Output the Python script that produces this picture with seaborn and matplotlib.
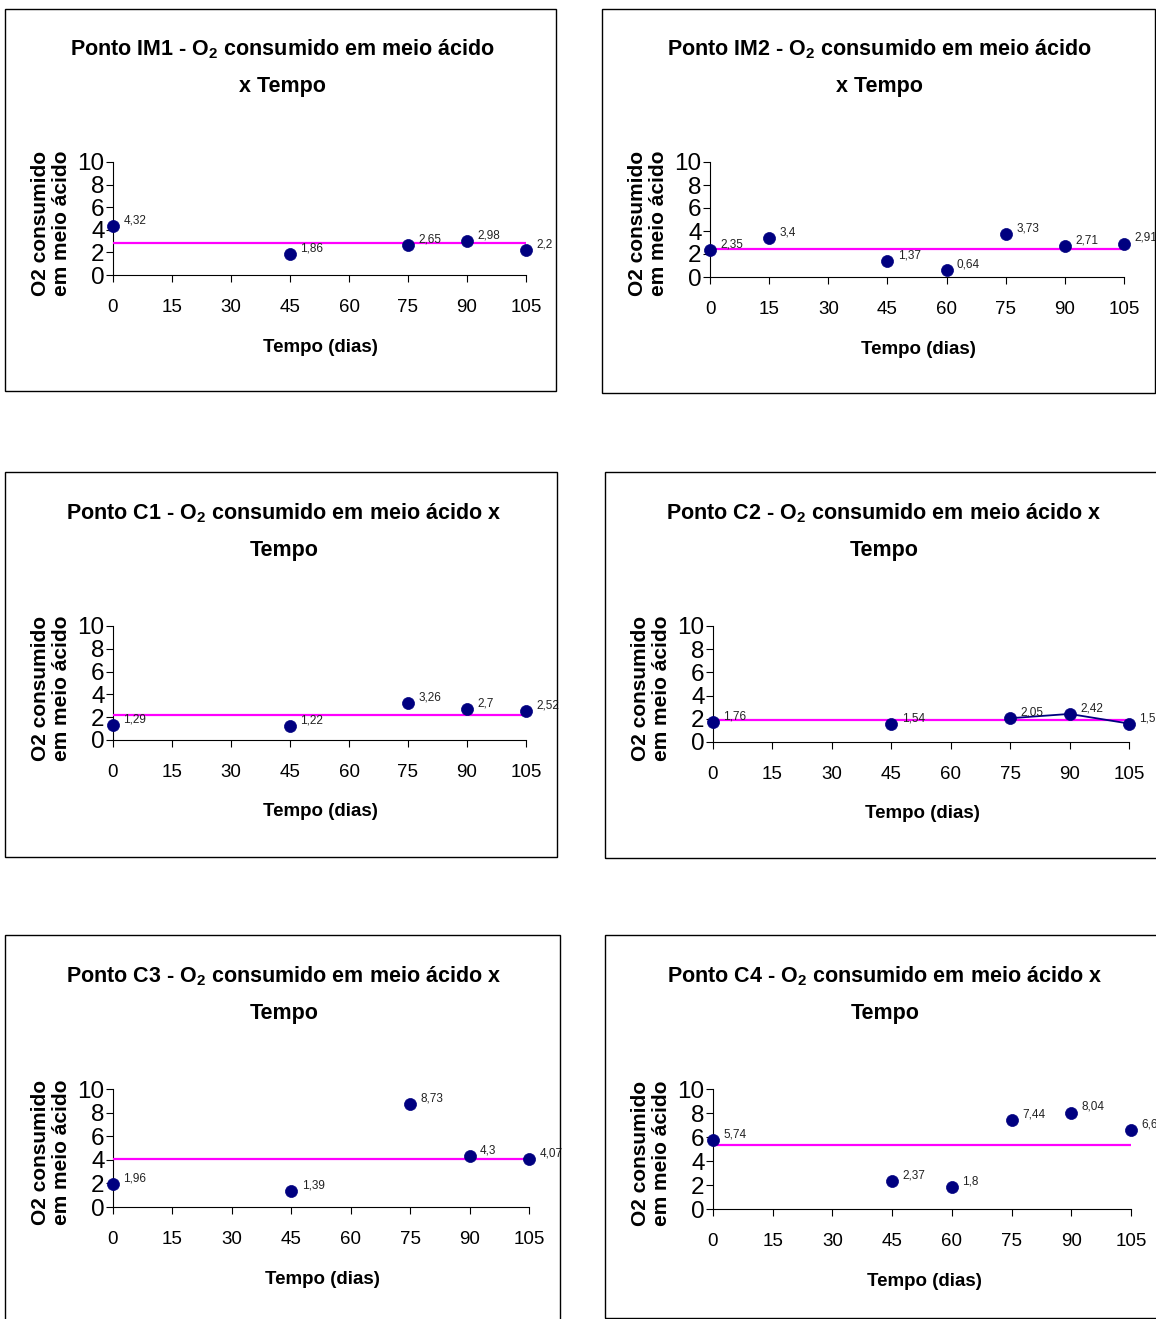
import numpy as np
import pandas as pd
import matplotlib
matplotlib.use("Agg")
import matplotlib.pyplot as plt
from matplotlib.patches import Rectangle
import seaborn as sns

# ---------------- data ----------------
panel_names = ["IM1", "IM2", "C1", "C2", "C3", "C4"]

im1_days = [0, 45, 75, 90, 105]
im1_o2 = [4.32, 1.86, 2.65, 2.98, 2.2]

im2_days = [0, 15, 45, 60, 75, 90, 105]
im2_o2 = [2.35, 3.4, 1.37, 0.64, 3.73, 2.71, 2.91]

c1_days = [0, 45, 75, 90, 105]
c1_o2 = [1.29, 1.22, 3.26, 2.7, 2.52]

c2_days = [0, 45, 75, 90, 105]
c2_o2 = [1.76, 1.54, 2.05, 2.42, 1.59]
c2_line_days = [75, 90, 105]       # segment drawn with a dark-blue line
c2_line_o2 = [2.05, 2.42, 1.59]

c3_days = [0, 45, 75, 90, 105]
c3_o2 = [1.96, 1.39, 8.73, 4.3, 4.07]

c4_days = [0, 45, 60, 75, 90, 105]
c4_o2 = [5.74, 2.37, 1.8, 7.44, 8.04, 6.6]

x_ticks = [0, 15, 30, 45, 60, 75, 90, 105]
y_ticks = [0, 2, 4, 6, 8, 10]

titles = [
    "Ponto IM1 - O$_2$ consumido em meio ácido\nx Tempo",
    "Ponto IM2 - O$_2$ consumido em meio ácido\nx Tempo",
    "Ponto C1 - O$_2$ consumido em meio ácido x\nTempo",
    "Ponto C2 - O$_2$ consumido em meio ácido x\nTempo",
    "Ponto C3 - O$_2$ consumido em meio ácido x\nTempo",
    "Ponto C4 - O$_2$ consumido em meio ácido x\nTempo",
]
y_label = "O2 consumido\nem meio ácido"
x_label = "Tempo (dias)"

series = [
    (im1_days, im1_o2), (im2_days, im2_o2), (c1_days, c1_o2),
    (c2_days, c2_o2), (c3_days, c3_o2), (c4_days, c4_o2),
]

# ---------------- layout (pixels) ----------------
W, H = 1156, 1319
axes_px = [
    (113, 526, 162, 275),
    (710, 1124, 162, 277),
    (113, 526, 626, 740),
    (713, 1129, 626, 742),
    (113, 529, 1089, 1207),
    (713, 1131, 1089, 1209),
]
boxes_px = [
    (5, 9, 556, 391),
    (602, 9, 1155, 393),
    (5, 472, 557, 857),
    (605, 472, 1170, 858),
    (5, 935, 560, 1330),
    (605, 935, 1170, 1318),
]
title_px = [(282, 67), (879, 67), (284, 531), (884, 531), (284, 994), (885, 994)]
ylab_px = [(51, 223), (648, 223), (51, 688), (651, 688), (51, 1152), (651, 1153)]
xlab_px = [(320, 347), (918, 349), (320, 812), (922, 814), (322, 1280), (924, 1281)]

sns.set_theme(style="ticks")
REG = ["Liberation Sans", "DejaVu Sans"]
plt.rcParams["font.family"] = REG
plt.rcParams["mathtext.fontset"] = "custom"
plt.rcParams["mathtext.rm"] = "Liberation Sans:bold"
plt.rcParams["mathtext.it"] = "Liberation Sans:bold"
plt.rcParams["mathtext.bf"] = "Liberation Sans:bold"

NAVY = "#000080"
MAGENTA = "#FF00FF"

fig = plt.figure(figsize=(W / 100, H / 100), dpi=100)
fig.patch.set_facecolor("white")


def to_ax(px, x, y):
    x0, x1, yt, yb = px
    return (x - x0) / (x1 - x0), (yb - y) / (yb - yt)


for i, name in enumerate(panel_names):
    l, t, r, b = boxes_px[i]
    fig.add_artist(Rectangle((l / W, 1 - b / H), (r - l) / W, (b - t) / H,
                             transform=fig.transFigure, fill=False,
                             edgecolor="black", linewidth=1.0))

    x0, x1, yt, yb = axes_px[i]
    ax = fig.add_axes([x0 / W, 1 - yb / H, (x1 - x0) / W, (yb - yt) / H])
    ax.set_facecolor("none")
    days, vals = series[i]
    df = pd.DataFrame({"dias": days, "o2": vals})

    ax.axhline(np.mean(vals), color=MAGENTA, linewidth=1.6, zorder=3)
    if name == "C2":
        dl = pd.DataFrame({"dias": c2_line_days, "o2": c2_line_o2})
        sns.lineplot(data=dl, x="dias", y="o2", ax=ax, color=NAVY,
                     linewidth=1.3, zorder=4, legend=False)
    sns.scatterplot(data=df, x="dias", y="o2", ax=ax, s=75, color=NAVY,
                    edgecolor=NAVY, linewidth=0.5, zorder=5, clip_on=False,
                    legend=False)
    for d, v in zip(days, vals):
        ax.annotate(f"{v:g}".replace(".", ","), (d, v), xytext=(7.5, 4),
                    textcoords="offset points", ha="left", va="center",
                    fontsize=8.5, family=REG, color="#222222",
                    annotation_clip=False, zorder=6)

    ax.set_xlim(0, 105)
    ax.set_ylim(0, 10)
    ax.set_xticks(x_ticks)
    ax.set_yticks(y_ticks)
    ax.set_xticklabels([str(v) for v in x_ticks], family=REG, fontsize=13.5)
    ax.set_yticklabels([str(v) for v in y_ticks], family=REG, fontsize=17.5)
    ax.tick_params(axis="x", direction="out", length=5, width=0.8, pad=12,
                   colors="black")
    ax.tick_params(axis="y", direction="out", length=5, width=0.8, pad=1,
                   colors="black")
    sns.despine(ax=ax)
    for s in ("left", "bottom"):
        ax.spines[s].set_color("black")
        ax.spines[s].set_linewidth(0.8)

    ax.set_ylabel(y_label, fontsize=15, fontweight="bold", family=REG,
                  linespacing=1.1, color="black")
    ax.yaxis.label.set_verticalalignment("center")
    ax.yaxis.set_label_coords(*to_ax(axes_px[i], *ylab_px[i]))

    ax.set_xlabel(x_label, fontsize=13.5, fontweight="bold", family=REG,
                  color="black")
    ax.xaxis.label.set_verticalalignment("center")
    ax.xaxis.set_label_coords(*to_ax(axes_px[i], *xlab_px[i]))

    tx, ty = to_ax(axes_px[i], *title_px[i])
    ax.text(tx, ty, titles[i], transform=ax.transAxes, ha="center",
            va="center", multialignment="center", fontsize=15.5,
            fontweight="bold", family=REG, linespacing=1.95, color="black")

fig.savefig("out.png", dpi=100, facecolor="white")
